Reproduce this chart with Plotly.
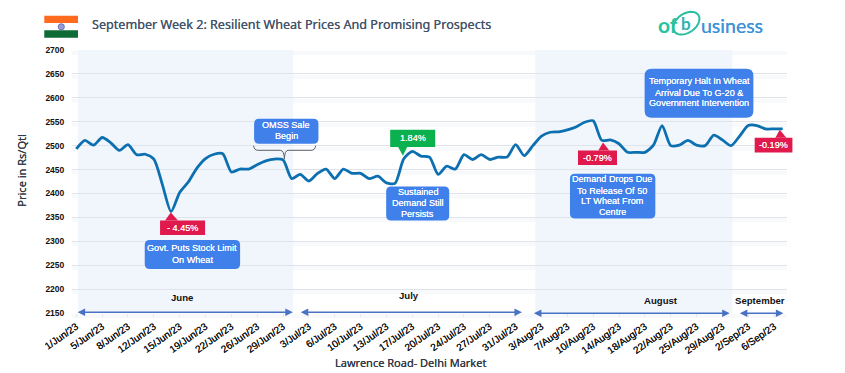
import math
import plotly.graph_objects as go

june_days = [1,2,3,5,6,7,8,9,10,12,13,14,15,16,17,19,20,21,22,23,24,26,27,28,29,30]
july_days = [1,3,4,5,6,7,8,10,11,12,13,14,15,17,18,19,20,21,22,24,25,26,27,28,29,31]
august_days = [1,2,3,4,5,7,8,9,10,11,12,14,16,17,18,19,21,22,23,24,25,26,28,29,30,31]
september_days = [2,4,5,6,7]
dates = ([f"{d}/Jun/23" for d in june_days] + [f"{d}/Jul/23" for d in july_days]
         + [f"{d}/Aug/23" for d in august_days] + [f"{d}/Sep/23" for d in september_days])
price = [2493,2511,2501,2517,2506,2490,2502,2481,2482,2472,2418,2362,2402,2424,2453,2473,2482,2483,
         2445,2451,2451,2460,2468,2472,2470,2431,2440,2426,2442,2451,2431,2451,2442,2442,2431,2436,
         2422,2421,2472,2488,2478,2476,2440,2457,2451,2481,2471,2481,2471,2476,2476,2502,2479,2500,
         2520,2528,2529,2533,2539,2549,2552,2511,2512,2504,2486,2486,2486,2501,2542,2500,2501,2511,
         2501,2500,2522,2512,2500,2520,2542,2542,2535,2535,2535]
y_ticks = list(range(2150, 2701, 50))

W, H = 845, 373
L, R, T, B = 72, 786.6, 50.3, 313.3
PW, PH = R - L, B - T
SANS = "Liberation Sans"
NOTO = "Noto Sans"
BLUE, RED, GREEN = "#3f80ea", "#e01a4c", "#0bb04f"

def px(x):
    return (x - L) / PW

def py(y):
    return 1 - (y - T) / PH

def path(points):
    return "M" + " L".join(f"{px(a):.5f},{py(b):.5f}" for a, b in points) + " Z"

def rrect(x0, y0, x1, y1, r=5):
    c = lambda a, b: f"{px(a):.5f},{py(b):.5f}"
    return (f"M{c(x0+r,y0)} L{c(x1-r,y0)} Q{c(x1,y0)} {c(x1,y0+r)} L{c(x1,y1-r)} Q{c(x1,y1)} {c(x1-r,y1)} "
            f"L{c(x0+r,y1)} Q{c(x0,y1)} {c(x0,y1-r)} L{c(x0,y0+r)} Q{c(x0,y0)} {c(x0+r,y0)} Z")

shapes, annos = [], []

def shp(p, fill=None, line=None, lw=0, layer="above"):
    shapes.append(dict(type="path", path=p, xref="paper", yref="paper", layer=layer,
                       fillcolor=fill if fill else "rgba(0,0,0,0)",
                       line=dict(color=line if line else "rgba(0,0,0,0)", width=lw)))

def txt(s, x, y, size=9.1, color="white", family=SANS, weight=None, anchor="center", angle=0, shadow="0 0 0.6px #ffffff"):
    annos.append(dict(text=s, x=px(x), y=py(y), xref="paper", yref="paper", showarrow=False,
                      xanchor=anchor, yanchor="middle", textangle=angle,
                      font=dict(size=size, color=color, family=family, weight=weight, shadow=shadow)))

def box(lines, x0, y0, x1, y1, ys, r=5, cx=None):
    shp(rrect(x0, y0, x1, y1, r), fill=BLUE)
    for s, y in zip(lines, ys):
        txt(s, cx if cx else (x0 + x1) / 2, y)

def tag(s, color, x0, y0, x1, y1, base0, base1, tip, cx):
    edge = y1 if tip[1] > y1 else y0
    shp(path([(x0, y0), (x1, y0), (x1, y1), (x0, y1)]), fill=color)
    shp(path([(base0, edge), tip, (base1, edge)]), fill=color)
    txt(s, cx, (y0 + y1) / 2)

def arrow(x0, x1, y):
    annos.append(dict(x=px(x1), y=py(y), xref="paper", yref="paper", ax=x0 - x1, ay=0, text="",
                      showarrow=True, arrowhead=2, arrowside="end+start", arrowsize=1,
                      arrowwidth=1.5, arrowcolor="#4a72c4", standoff=0, startstandoff=0))

# soft shadow under each gridline
for v in y_ticks:
    yv = T + (2700 - v) / 550 * PH
    shp(path([(L, yv + 1), (R, yv + 1), (R, yv + 5), (L, yv + 5)]), fill="rgba(225,229,238,0.22)", layer="below")

# month bands
shp(path([(78, T), (293, T), (293, B), (78, B)]), fill="#f1f6fd", layer="below")
shp(path([(535, T), (732, T), (732, B), (535, B)]), fill="#f1f6fd", layer="below")

# flag
shp(path([(44.3, 16), (78, 16), (78, 23.3), (44.3, 23.3)]), fill="#ff6a1f")
shp(path([(44.3, 30.5), (78, 30.5), (78, 38), (44.3, 38)]), fill="#0f6b35")
shapes.append(dict(type="circle", xref="paper", yref="paper", x0=px(58.2), x1=px(64.4),
                   y0=py(30.2), y1=py(24), fillcolor="#9a9ad8", line=dict(color="#5c5cb0", width=0.8)))

# logo ring
ring = []
for k in range(41):
    t = 2 * math.pi * k / 40
    a, b, rot = 14.5, 9.5, math.radians(-35)
    ring.append((686 + a * math.cos(t) * math.cos(rot) - b * math.sin(t) * math.sin(rot),
                 23.5 + a * math.cos(t) * math.sin(rot) + b * math.sin(t) * math.cos(rot)))
shp(path(ring), line="#2abfa2", lw=2)
txt("of", 656, 25, size=21, color="#27c3a0", family="Lato", weight=700, anchor="left", shadow="none")
txt("b", 686, 23.5, size=17, color="#2db3b0", family="Lato", weight=700, shadow="none")
txt("usiness", 698.5, 25.5, size=19.5, color="#3e93d8", family="Lato", anchor="left", shadow="0 0 0.5px #3e93d8")

# brace under the OMSS box
c = lambda a, b: f"{px(a):.5f},{py(b):.5f}"
shapes.append(dict(type="path", xref="paper", yref="paper", layer="above", line=dict(color="#5b6068", width=1),
                   path=f"M{c(253.5,146)} Q{c(254,150.6)} {c(258,150.6)} L{c(280,150.6)} Q{c(284,150.6)} {c(284.3,159)} "
                        f"Q{c(284.6,150.6)} {c(288,150.6)} L{c(311,150.6)} Q{c(315,150.6)} {c(315.5,146)}"))

box(["OMSS Sale", "Begin"], 254, 119, 318.3, 144, [125.7, 136.3])
box(["Govt. Puts Stock Limit", "On Wheat"], 144.7, 240.3, 240, 269.3, [248.7, 259.8])
box(["Sustained", "Demand Still", "Persists"], 386, 186.7, 449, 220.7, [192.7, 203.2, 214.5])
box(["Demand Drops Due", "To Release Of 50", "LT Wheat From", "Centre"], 569.7, 174, 655, 218.7,
    [179.8, 191, 201.7, 212.3], cx=612)
box(["Temporary Halt In Wheat", "Arrival Due To G-20 &", "Government Intervention"], 644.3, 69, 753, 118,
    [81.7, 93, 103.7], r=7)

tag("- 4.45%", RED, 160, 220.7, 205, 235.3, 165, 178, (170.7, 212.7), 182.7)
tag("1.84%", GREEN, 390, 130, 435, 147.3, 398, 407, (402.7, 156), 412.5)
tag("-0.79%", RED, 577.7, 150.7, 616.7, 165.3, 598, 609, (602.7, 142.7), 597.3)
tag("-0.19%", RED, 754.3, 138, 792, 152.7, 775, 786, (779.3, 130), 773)

arrow(76, 292.7, 312.6)
arrow(299, 521.7, 312.6)
arrow(532, 729.3, 313.6)
arrow(738, 783, 313.6)

for s, x, y in [("June", 182.3, 297.3), ("July", 409, 295.8), ("August", 660.3, 300.4), ("September", 759.3, 301)]:
    txt(s, x, y, size=9.6, color="#111111", weight=700, shadow="none")

txt("Price in Rs/Qtl", 22, 171, size=11, color="#333a45", family=NOTO, shadow="0 0 0.5px #333a45", angle=-90)
txt("Lawrence Road- Delhi Market", 410, 362.7, size=11, color="#333a45", family=NOTO, shadow="0 0 0.5px #333a45")

fig = go.Figure(go.Scatter(x=dates, y=price, mode="lines", cliponaxis=False,
                           line=dict(color="#0c6fb0", width=2.8, shape="spline", smoothing=0.7),
                           hoverinfo="x+y"))
fig.update_layout(
    width=W, height=H, margin=dict(l=L, r=W - R, t=T, b=H - B), autosize=False,
    plot_bgcolor="white", paper_bgcolor="white", showlegend=False, shapes=shapes, annotations=annos,
    title=dict(text="September Week 2: Resilient Wheat Prices And Promising Prospects", x=92 / W, xref="container",
               xanchor="left", y=1 - 24.5 / H, yanchor="middle",
               font=dict(family=NOTO, size=12.6, color="#44546a", shadow="0 0 0.5px #44546a")),
    xaxis=dict(type="category", categoryorder="array", categoryarray=dates, range=[-0.5, 82.5],
               tickmode="array", tickvals=dates[::3], ticktext=dates[::3], tickangle=-35,
               tickfont=dict(family=SANS, size=10, color="#111111", shadow="0 0 0.5px #111111"), showgrid=False,
               ticks="outside", ticklen=3, tickcolor="#e3e6ec", showline=False, zeroline=False),
    yaxis=dict(range=[2150, 2700], tickmode="array", tickvals=y_ticks, showgrid=True, gridcolor="#dfe3eb",
               gridwidth=1.3, zeroline=False, showline=False, ticks="outside", ticklen=5, tickcolor="rgba(0,0,0,0)",
               tickfont=dict(family=SANS, size=8.5, color="#111111", weight=700)),
)
fig.write_html("out.html", config={"displayModeBar": False}, post_script="document.body.style.margin='0';")
